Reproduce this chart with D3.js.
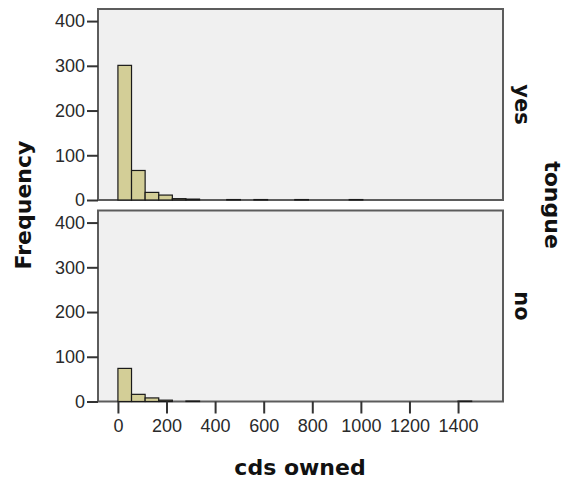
<!DOCTYPE html>
<html>
<head>
<meta charset="utf-8">
<script src="https://cdn.jsdelivr.net/npm/d3@7"></script>
<style>
  html, body { margin: 0; padding: 0; background: #fff; }
  svg { display: block; }
</style>
</head>
<body>
<svg id="chart" width="564" height="481"></svg>
<script>
// Histogram of CDs owned, paneled by "tongue" (yes / no)
const binWidth = 56;
const binStarts = [0, 56, 112, 168, 224, 280, 336, 392, 448, 504, 560, 616, 672,
                   728, 784, 840, 896, 952, 1008, 1064, 1120, 1176, 1232, 1288, 1344, 1400];
const countsYes = [301, 66, 17, 11, 3, 2, 0, 0, 1, 0, 1, 0, 0,
                   1, 0, 0, 0, 1, 0, 0, 0, 0, 0, 0, 0, 0];
const countsNo  = [74, 16, 8, 3, 0, 1, 0, 0, 0, 0, 0, 0, 0,
                   0, 0, 0, 0, 0, 0, 0, 0, 0, 0, 0, 0, 1];
const panelNames = ["yes", "no"];
const xTicks = [0, 200, 400, 600, 800, 1000, 1200, 1400];
const yTicks = [0, 100, 200, 300, 400];
const xTitle = "cds owned";
const yTitle = "Frequency";
const facetTitle = "tongue";

const svg = d3.select("#chart");

const left = 98, right = 503;
const panelTops = [9, 210.5];
const panelH = 191;

const x = d3.scaleLinear().domain([-82, 1585]).range([left, right]);

const tickFont = "'Liberation Sans', Arial, sans-serif";
const boldFont = "'DejaVu Sans', Verdana, sans-serif";
const plain = d3.format("d");

const panels = [countsYes, countsNo];

panels.forEach((counts, p) => {
  const top = panelTops[p];
  const y = d3.scaleLinear().domain([0, 427]).range([top + panelH, top]);
  const g = svg.append("g");

  // panel background and frame
  g.append("rect")
    .attr("x", left).attr("y", top)
    .attr("width", right - left).attr("height", panelH)
    .attr("fill", "#f0f0f0")
    .attr("stroke", "#5c5c5c").attr("stroke-width", 2);

  // bars
  const bins = binStarts.map((s, i) => ({ start: s, count: counts[i] }))
                        .filter(d => d.count > 0);
  g.selectAll("rect.bar").data(bins).enter().append("rect")
    .attr("class", "bar")
    .attr("x", d => x(d.start))
    .attr("width", d => x(d.start + binWidth) - x(d.start))
    .attr("y", d => y(d.count))
    .attr("height", d => y(0) - y(d.count))
    .attr("fill", "#d3ce97")
    .attr("stroke", "#1a1a1a").attr("stroke-width", 1.2);

  // y axis
  const yAxis = d3.axisLeft(y).tickValues(yTicks).tickFormat(plain).tickSize(11).tickPadding(2);
  const ya = g.append("g").attr("transform", `translate(${left},0)`).call(yAxis);
  ya.select(".domain").remove();
  ya.selectAll(".tick line").attr("stroke", "#333").attr("stroke-width", 2);
  ya.selectAll(".tick text")
    .attr("font-family", tickFont).attr("font-size", 18).attr("fill", "#2a2a2a");

  // facet label
  svg.append("text")
    .attr("transform", `translate(522,${top + panelH / 2}) rotate(90)`)
    .attr("text-anchor", "middle").attr("dy", "0.35em")
    .attr("font-family", boldFont).attr("font-weight", "bold")
    .attr("font-size", 21).attr("fill", "#111")
    .text(panelNames[p]);

  if (p === 1) {
    const xAxis = d3.axisBottom(x).tickValues(xTicks).tickFormat(plain).tickSize(12).tickPadding(6);
    const xa = g.append("g").attr("transform", `translate(0,${top + panelH})`).call(xAxis);
    xa.select(".domain").remove();
    xa.selectAll(".tick line").attr("stroke", "#333").attr("stroke-width", 2);
    xa.selectAll(".tick text")
      .attr("font-family", tickFont).attr("font-size", 18).attr("fill", "#2a2a2a");
  }
});

// axis titles
svg.append("text")
  .attr("x", 300).attr("y", 475)
  .attr("text-anchor", "middle")
  .attr("font-family", boldFont).attr("font-weight", "bold")
  .attr("font-size", 22).attr("fill", "#111")
  .text(xTitle);

svg.append("text")
  .attr("transform", "translate(31,205) rotate(-90)")
  .attr("text-anchor", "middle")
  .attr("font-family", boldFont).attr("font-weight", "bold")
  .attr("font-size", 22).attr("fill", "#111")
  .text(yTitle);

svg.append("text")
  .attr("transform", "translate(553,205) rotate(90)")
  .attr("text-anchor", "middle").attr("dy", "0.35em")
  .attr("font-family", boldFont).attr("font-weight", "bold")
  .attr("font-size", 22).attr("fill", "#111")
  .text(facetTitle);
</script>
</body>
</html>
